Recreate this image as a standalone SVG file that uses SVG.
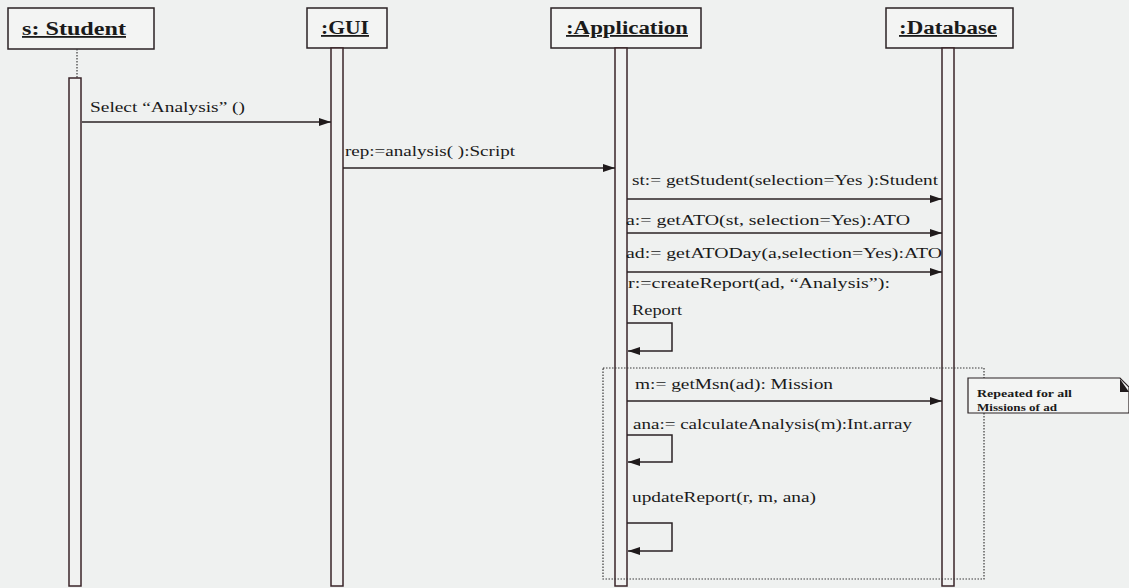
<svg xmlns="http://www.w3.org/2000/svg" width="1129" height="588" viewBox="0 0 1129 588">
<style>
.box{fill:#f3f4f3;stroke:#2b2224;stroke-width:1.5}
.bar{fill:#f1f2f1;stroke:#3a2428;stroke-width:1.5}
.title{font-family:'Liberation Serif','Times New Roman','DejaVu Serif',Times,serif;font-weight:bold;font-size:18px;fill:#1a1a1a;text-decoration:underline}
.msg{font-family:'Liberation Serif','Times New Roman','DejaVu Serif',Times,serif;font-size:14px;fill:#1a1a1a}
.line{stroke:#2b2224;stroke-width:1.5;fill:none}
.dot{stroke:#3a3a3a;stroke-width:1.2;stroke-dasharray:1.5 1.5;fill:none}
.note{font-family:'Liberation Serif','Times New Roman','DejaVu Serif',Times,serif;font-weight:bold;font-size:10px;fill:#1a1a1a}
</style>
<defs>
<marker id="ah" markerWidth="12" markerHeight="8" refX="12" refY="4" orient="auto" markerUnits="userSpaceOnUse">
<path d="M0,0 L12,4 L0,8 Z" fill="#1f1a1b"/>
</marker>
</defs>
<rect width="1129" height="588" fill="#eff1f0"/>
<g id="student">
<rect class="box" x="8" y="8" width="146" height="41"/>
<text class="title" x="22" y="35" textLength="104" lengthAdjust="spacingAndGlyphs">s: Student</text>
<line class="dot" x1="77" y1="49" x2="77" y2="78"/>
<rect class="bar" x="69" y="78" width="12" height="508"/>
</g>
<g id="gui">
<rect class="box" x="307" y="8" width="80" height="40"/>
<text class="title" x="321" y="34" textLength="48" lengthAdjust="spacingAndGlyphs">:GUI</text>
<rect class="bar" x="331" y="48" width="12" height="538"/>
</g>
<g id="application">
<rect class="box" x="551" y="8" width="150" height="40"/>
<text class="title" x="566" y="34" textLength="122" lengthAdjust="spacingAndGlyphs">:Application</text>
<rect class="bar" x="615" y="48" width="12" height="538"/>
</g>
<g id="database">
<rect class="box" x="886" y="8" width="127" height="40"/>
<text class="title" x="899" y="34" textLength="98" lengthAdjust="spacingAndGlyphs">:Database</text>
<rect class="bar" x="942" y="48" width="12" height="538"/>
</g>
<g id="loop-frame">
<rect class="dot" x="603" y="368" width="381" height="211"/>
</g>
<g id="note">
<path d="M968,378 H1120 L1129,387 V413 H968 Z" fill="#f3f4f3" stroke="#2b2224" stroke-width="1.2"/>
<path d="M1120,379 L1129,392 L1120,392 Z" fill="#1f1a1b"/>
<text class="note" x="977" y="397" textLength="95" lengthAdjust="spacingAndGlyphs">Repeated for all</text>
<text class="note" x="977" y="411" textLength="80" lengthAdjust="spacingAndGlyphs">Missions of ad</text>
</g>
<g id="connectors">
<line class="line" x1="82" y1="122" x2="331" y2="122" marker-end="url(#ah)"/>
<line class="line" x1="343" y1="168" x2="615" y2="168" marker-end="url(#ah)"/>
<line class="line" x1="627" y1="199" x2="942" y2="199" marker-end="url(#ah)"/>
<line class="line" x1="627" y1="233" x2="942" y2="233" marker-end="url(#ah)"/>
<line class="line" x1="627" y1="272" x2="942" y2="272" marker-end="url(#ah)"/>
<path class="line" d="M627,323 H672 V351 H628" marker-end="url(#ah)"/>
<line class="line" x1="627" y1="401" x2="942" y2="401" marker-end="url(#ah)"/>
<path class="line" d="M627,435 H672 V462 H628" marker-end="url(#ah)"/>
<path class="line" d="M627,523 H672 V551 H628" marker-end="url(#ah)"/>
</g>
<g id="labels">
<text class="msg" x="90" y="112" textLength="155" lengthAdjust="spacingAndGlyphs">Select “Analysis” ()</text>
<text class="msg" x="345" y="156" textLength="170" lengthAdjust="spacingAndGlyphs">rep:=analysis( ):Script</text>
<text class="msg" x="632" y="185" textLength="306" lengthAdjust="spacingAndGlyphs">st:= getStudent(selection=Yes ):Student</text>
<text class="msg" x="626" y="225" textLength="284" lengthAdjust="spacingAndGlyphs">a:= getATO(st, selection=Yes):ATO</text>
<text class="msg" x="626" y="258" textLength="316" lengthAdjust="spacingAndGlyphs">ad:= getATODay(a,selection=Yes):ATO</text>
<text class="msg" x="628" y="288" textLength="262" lengthAdjust="spacingAndGlyphs">r:=createReport(ad, “Analysis”):</text>
<text class="msg" x="632" y="315" textLength="50" lengthAdjust="spacingAndGlyphs">Report</text>
<text class="msg" x="635" y="389" textLength="198" lengthAdjust="spacingAndGlyphs">m:= getMsn(ad): Mission</text>
<text class="msg" x="633" y="429" textLength="279" lengthAdjust="spacingAndGlyphs">ana:= calculateAnalysis(m):Int.array</text>
<text class="msg" x="632" y="502" textLength="184" lengthAdjust="spacingAndGlyphs">updateReport(r, m, ana)</text>
</g>
</svg>
